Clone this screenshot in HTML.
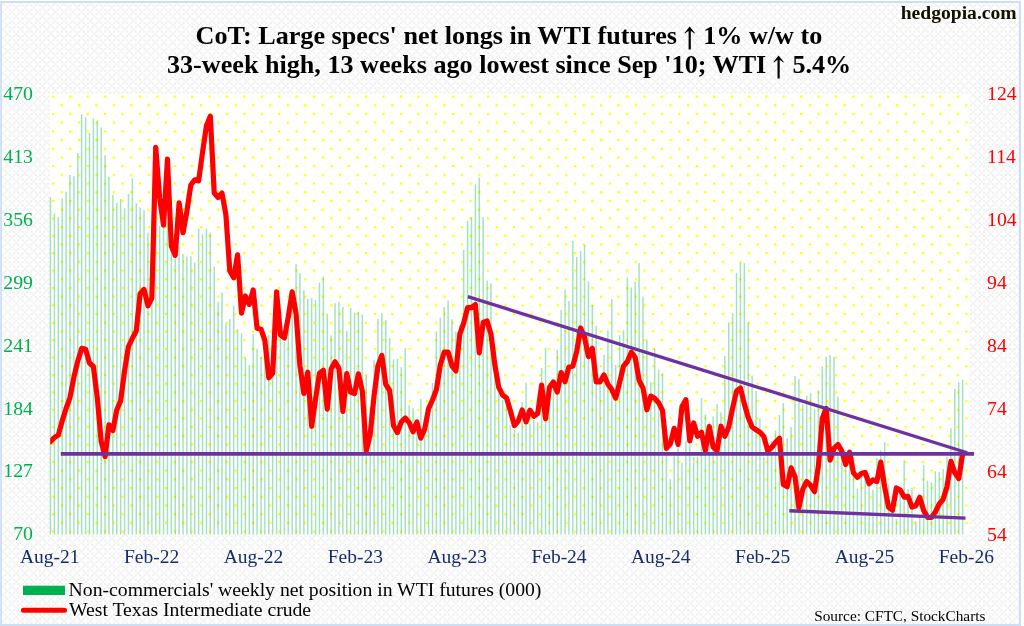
<!DOCTYPE html>
<html><head><meta charset="utf-8"><title>CoT WTI</title>
<style>
html,body{margin:0;padding:0;background:#fff;}
body{width:1024px;height:626px;position:relative;overflow:hidden;font-family:"Liberation Serif",serif;}
.h{color:transparent}
.t{position:absolute;white-space:nowrap;font-family:"Liberation Serif",serif;}
#tx{position:absolute;left:0;top:0;width:1024px;height:626px;will-change:transform;transform:translateZ(0);}
</style></head><body>
<svg id="chart" width="1024" height="626" viewBox="0 0 1024 626" style="position:absolute;left:0;top:0">
<defs>
<pattern id="bgp" x="-0.15" y="0.05" width="8.7" height="8.7" patternUnits="userSpaceOnUse">
<g fill="#efefef">
<rect x="0" y="0" width="2.175" height="2.175"/><rect x="4.35" y="0" width="2.175" height="2.175"/>
<rect x="2.175" y="2.175" width="2.175" height="2.175"/>
<rect x="0" y="4.35" width="2.175" height="2.175"/><rect x="4.35" y="4.35" width="2.175" height="2.175"/>
<rect x="6.525" y="6.525" width="2.175" height="2.175"/>
</g>
</pattern>
<pattern id="dots" x="51.9" y="95.5" width="17.4" height="17.4" patternUnits="userSpaceOnUse">
<rect x="0" y="0" width="2.2" height="2.2" fill="#ffff00"/><rect x="8.7" y="8.7" width="2.2" height="2.2" fill="#ffff00"/>
</pattern>
<filter id="soft" x="-5%" y="-5%" width="110%" height="110%"><feGaussianBlur stdDeviation="0.45"/></filter>
<filter id="soft2" x="-5%" y="-5%" width="110%" height="110%"><feGaussianBlur stdDeviation="0.6"/></filter>
<clipPath id="pc"><rect x="50.2" y="90" width="930" height="450"/></clipPath>
</defs>
<rect x="0" y="0" width="1024" height="626" fill="#ffffff"/>
<rect x="2" y="3" width="1017" height="621" fill="url(#bgp)" filter="url(#soft2)"/>
<g filter="url(#soft)" stroke="#cedef3" fill="none"><line x1="0" y1="2" x2="1021" y2="2" stroke-width="1.8"/><line x1="1.1" y1="1" x2="1.1" y2="626" stroke-width="1.9"/><line x1="1020" y1="1" x2="1020" y2="626" stroke-width="2"/><line x1="0" y1="625.2" x2="1021" y2="625.2" stroke-width="2.2"/></g>
<rect x="49.8" y="94.0" width="920.2" height="440.5" fill="#ffffff"/>
<rect x="49.8" y="94.0" width="920.2" height="440.5" fill="url(#dots)" filter="url(#soft)"/>
<path d="M50.50 534.5V196.9M54.40 534.5V213.6M58.30 534.5V217.1M62.19 534.5V198.3M66.09 534.5V191.7M69.99 534.5V175.0M73.89 534.5V176.2M77.79 534.5V153.0M81.68 534.5V114.0M85.58 534.5V117.2M89.48 534.5V133.1M93.38 534.5V118.3M97.28 534.5V120.3M101.17 534.5V127.6M105.07 534.5V155.3M108.97 534.5V176.9M112.87 534.5V194.9M116.77 534.5V202.7M120.66 534.5V199.1M124.56 534.5V208.2M128.46 534.5V194.1M132.36 534.5V178.2M136.26 534.5V203.2M140.15 534.5V207.4M144.05 534.5V210.0M147.95 534.5V232.4M151.85 534.5V230.0M155.75 534.5V228.0M159.64 534.5V226.2M163.54 534.5V228.0M167.44 534.5V221.5M171.34 534.5V240.0M175.24 534.5V244.0M179.13 534.5V246.5M183.03 534.5V253.9M186.93 534.5V256.7M190.83 534.5V256.2M194.73 534.5V262.5M198.62 534.5V228.8M202.52 534.5V234.3M206.42 534.5V228.8M210.32 534.5V232.4M214.22 534.5V266.5M218.11 534.5V301.8M222.01 534.5V292.4M225.91 534.5V323.5M229.81 534.5V319.3M233.71 534.5V305.7M237.60 534.5V329.2M241.50 534.5V333.4M245.40 534.5V357.6M249.30 534.5V365.0M253.20 534.5V334.2M257.09 534.5V348.7M260.99 534.5V356.9M264.89 534.5V345.0M268.79 534.5V334.9M272.69 534.5V350.0M276.58 534.5V345.0M280.48 534.5V307.6M284.38 534.5V342.0M288.28 534.5V325.0M292.18 534.5V300.0M296.07 534.5V264.0M299.97 534.5V273.3M303.87 534.5V290.3M307.77 534.5V299.0M311.67 534.5V298.2M315.56 534.5V300.0M319.46 534.5V282.8M323.36 534.5V276.6M327.26 534.5V313.8M331.16 534.5V335.4M335.05 534.5V303.2M338.95 534.5V302.1M342.85 534.5V307.1M346.75 534.5V331.0M350.65 534.5V308.0M354.54 534.5V313.0M358.44 534.5V311.7M362.34 534.5V314.6M366.24 534.5V375.3M370.14 534.5V407.0M374.03 534.5V360.2M377.93 534.5V319.0M381.83 534.5V313.3M385.73 534.5V320.1M389.63 534.5V338.1M393.52 534.5V359.2M397.42 534.5V358.7M401.32 534.5V367.3M405.22 534.5V348.2M409.12 534.5V405.3M413.01 534.5V408.3M416.91 534.5V425.0M420.81 534.5V398.9M424.71 534.5V432.0M428.61 534.5V410.0M432.50 534.5V383.0M436.40 534.5V331.5M440.30 534.5V317.4M444.20 534.5V307.1M448.10 534.5V300.5M451.99 534.5V319.3M455.89 534.5V331.3M459.79 534.5V325.1M463.69 534.5V249.9M467.59 534.5V221.0M471.48 534.5V217.1M475.38 534.5V184.2M479.28 534.5V177.5M483.18 534.5V216.9M487.08 534.5V280.5M490.97 534.5V283.3M494.87 534.5V347.0M498.77 534.5V393.6M502.67 534.5V399.4M506.57 534.5V394.0M510.46 534.5V425.0M514.36 534.5V430.0M518.26 534.5V432.9M522.16 534.5V402.0M526.06 534.5V382.4M529.95 534.5V423.5M533.85 534.5V420.0M537.75 534.5V422.2M541.65 534.5V368.0M545.55 534.5V347.8M549.44 534.5V385.0M553.34 534.5V380.0M557.24 534.5V350.1M561.14 534.5V310.1M565.04 534.5V289.5M568.93 534.5V300.9M572.83 534.5V241.0M576.73 534.5V256.9M580.63 534.5V250.8M584.53 534.5V244.9M588.42 534.5V281.6M592.32 534.5V305.1M596.22 534.5V326.0M600.12 534.5V385.0M604.02 534.5V354.7M607.91 534.5V330.6M611.81 534.5V298.9M615.71 534.5V365.1M619.61 534.5V335.2M623.51 534.5V330.2M627.40 534.5V277.4M631.30 534.5V287.4M635.20 534.5V282.0M639.10 534.5V262.9M643.00 534.5V296.5M646.89 534.5V339.6M650.79 534.5V382.3M654.69 534.5V348.2M658.59 534.5V369.5M662.49 534.5V373.4M666.38 534.5V440.0M670.28 534.5V479.3M674.18 534.5V455.8M678.08 534.5V448.2M681.98 534.5V462.8M685.87 534.5V440.7M689.77 534.5V444.4M693.67 534.5V457.0M697.57 534.5V457.0M701.47 534.5V398.1M705.36 534.5V414.5M709.26 534.5V422.3M713.16 534.5V416.4M717.06 534.5V403.9M720.96 534.5V412.2M724.85 534.5V355.8M728.75 534.5V322.5M732.65 534.5V313.2M736.55 534.5V273.2M740.45 534.5V262.7M744.34 534.5V263.2M748.24 534.5V322.5M752.14 534.5V375.4M756.04 534.5V390.7M759.94 534.5V418.7M763.83 534.5V456.7M767.73 534.5V450.0M771.63 534.5V441.5M775.53 534.5V430.8M779.43 534.5V415.1M783.32 534.5V403.0M787.22 534.5V438.3M791.12 534.5V427.0M795.02 534.5V375.9M798.92 534.5V379.3M802.81 534.5V404.3M806.71 534.5V395.7M810.61 534.5V393.3M814.51 534.5V409.3M818.41 534.5V390.4M822.30 534.5V366.6M826.20 534.5V356.7M830.10 534.5V354.9M834.00 534.5V357.0M837.90 534.5V396.6M841.79 534.5V455.0M845.69 534.5V455.0M849.59 534.5V460.0M853.49 534.5V457.6M857.39 534.5V488.7M861.28 534.5V476.0M865.18 534.5V478.0M869.08 534.5V473.2M872.98 534.5V489.9M876.88 534.5V458.0M880.77 534.5V450.2M884.67 534.5V442.3M888.57 534.5V484.5M892.47 534.5V500.0M896.37 534.5V519.0M900.26 534.5V495.0M904.16 534.5V460.3M908.06 534.5V489.3M911.96 534.5V487.7M915.86 534.5V521.4M919.75 534.5V515.0M923.65 534.5V465.0M927.55 534.5V480.7M931.45 534.5V481.9M935.35 534.5V471.3M939.24 534.5V472.1M943.14 534.5V469.0M947.04 534.5V456.4M950.94 534.5V428.3M954.84 534.5V389.1M958.73 534.5V382.2M962.63 534.5V379.7" stroke="#00b050" stroke-opacity="0.36" stroke-width="1.5" fill="none"/>
<polyline points="50.50,441.6 54.40,437.5 58.30,435.1 62.19,421.0 66.09,408.5 69.99,397.6 73.89,377.2 77.79,361.0 81.68,348.4 85.58,349.2 89.48,363.0 93.38,366.5 97.28,397.6 101.17,441.4 105.07,456.6 108.97,424.8 112.87,430.5 116.77,410.1 120.66,400.7 124.56,371.0 128.46,346.5 132.36,338.3 136.26,331.0 140.15,293.5 144.05,289.4 147.95,305.8 151.85,298.0 155.75,147.4 159.64,198.0 163.54,225.2 167.44,159.1 171.34,246.0 175.24,255.4 179.13,202.8 183.03,232.7 186.93,211.0 190.83,185.0 194.73,179.8 198.62,180.9 202.52,152.5 206.42,125.8 210.32,116.1 214.22,193.0 218.11,197.5 222.01,193.1 225.91,214.7 229.81,271.0 233.71,277.7 237.60,254.8 241.50,313.2 245.40,296.0 249.30,304.3 253.20,289.9 257.09,328.2 260.99,329.2 264.89,340.4 268.79,377.8 272.69,373.3 276.58,291.8 280.48,335.0 284.38,337.9 288.28,317.0 292.18,291.8 296.07,313.8 299.97,366.0 303.87,393.5 307.77,372.2 311.67,426.4 315.56,399.0 319.46,373.3 323.36,370.3 327.26,409.1 331.16,369.0 335.05,361.7 338.95,368.8 342.85,411.5 346.75,373.5 350.65,392.1 354.54,393.6 358.44,373.8 362.34,391.0 366.24,451.0 370.14,435.0 374.03,396.0 377.93,366.0 381.83,355.4 385.73,384.3 389.63,390.5 393.52,425.7 397.42,432.6 401.32,421.8 405.22,418.0 409.12,422.6 413.01,431.8 416.91,422.0 420.81,438.1 424.71,428.9 428.61,408.5 432.50,400.0 436.40,389.7 440.30,365.0 444.20,352.2 448.10,352.0 451.99,366.0 455.89,371.0 459.79,334.2 463.69,323.2 467.59,307.6 471.48,307.6 475.38,304.6 479.28,352.8 483.18,322.4 487.08,321.0 490.97,334.2 494.87,365.0 498.77,387.4 502.67,395.2 506.57,398.0 510.46,411.0 514.36,425.7 518.26,421.0 522.16,410.0 526.06,421.8 529.95,410.2 533.85,416.2 537.75,413.3 541.65,385.1 545.55,418.8 549.44,387.5 553.34,382.0 557.24,392.0 561.14,372.6 565.04,381.7 568.93,367.0 572.83,366.2 576.73,351.3 580.63,328.0 584.53,337.2 588.42,356.6 592.32,348.3 596.22,382.0 600.12,381.8 604.02,374.9 607.91,384.2 611.81,389.6 615.71,398.1 619.61,382.6 623.51,366.2 627.40,361.5 631.30,352.2 635.20,357.6 639.10,380.3 643.00,388.1 646.89,409.8 650.79,396.1 654.69,398.2 658.59,402.7 662.49,410.4 666.38,448.4 670.28,443.8 674.18,428.3 678.08,444.4 681.98,406.5 685.87,399.8 689.77,441.0 693.67,423.0 697.57,436.3 701.47,432.2 705.36,450.7 709.26,426.6 713.16,447.0 717.06,450.7 720.96,426.2 724.85,436.3 728.75,427.0 732.65,408.0 736.55,391.0 740.45,388.0 744.34,404.0 748.24,417.4 752.14,427.0 756.04,429.8 759.94,432.3 763.83,436.5 767.73,450.8 771.63,447.6 775.53,442.3 779.43,438.2 783.32,484.5 787.22,486.7 791.12,467.9 795.02,476.7 798.92,507.8 802.81,489.2 806.71,481.5 810.61,485.4 814.51,491.7 818.41,466.0 822.30,418.5 826.20,408.5 830.10,460.2 834.00,448.6 837.90,444.4 841.79,451.0 845.69,464.5 849.59,452.2 853.49,472.9 857.39,477.4 861.28,473.6 865.18,472.5 869.08,483.7 872.98,479.9 876.88,481.5 880.77,462.1 884.67,487.0 888.57,507.3 892.47,510.3 896.37,488.0 900.26,490.1 904.16,497.1 908.06,496.3 911.96,507.1 915.86,505.7 919.75,497.3 923.65,510.4 927.55,517.3 931.45,517.5 935.35,512.0 939.24,504.0 943.14,499.3 947.04,486.5 950.94,461.3 954.84,472.9 958.73,478.6 962.63,454.0" fill="none" stroke="#ff0000" stroke-width="5.2" stroke-linejoin="round" stroke-linecap="round" clip-path="url(#pc)"/>
<g stroke="#7030a0" stroke-width="3.8" fill="none">
<line x1="60.8" y1="453.9" x2="974" y2="453.9"/>
<line x1="467.8" y1="296.6" x2="967.2" y2="452.7" stroke-width="3.3"/>
<line x1="789.3" y1="510.7" x2="965.5" y2="518.1" stroke-width="3.4"/>
</g>
<rect x="23" y="585.7" width="42" height="9.3" fill="#00b050"/>
<line x1="23.4" y1="610.3" x2="64.5" y2="610.3" stroke="#ff0000" stroke-width="5" stroke-linecap="round"/>
<path fill="#000" d="M689.7,26.400000000000002 L694.9000000000001,33.0 L694.4000000000001,33.4 Q691.9000000000001,31.3 690.8000000000001,31.0 L690.8000000000001,49.400000000000006 L688.6,49.400000000000006 L688.6,31.0 Q687.5,31.3 685.0,33.4 L684.5,33.0 Z"/>
<path fill="#000" d="M778.6,55.5 L783.8000000000001,62.1 L783.3000000000001,62.5 Q780.8000000000001,60.400000000000006 779.7,60.1 L779.7,78.5 L777.5,78.5 L777.5,60.1 Q776.4,60.400000000000006 773.9,62.5 L773.4,62.1 Z"/>
</svg>
<div id="tx">
<div class="t" style="left:8.899999999999977px;width:1000px;text-align:center;top:23.30px;font-size:26.15px;line-height:26.15px;color:#000;font-weight:bold;">CoT: Large specs' net longs in WTI futures <span class=h>&#8593;</span> 1% w/w to</div>
<div class="t" style="left:9.100000000000023px;width:1000px;text-align:center;top:52.40px;font-size:26.15px;line-height:26.15px;color:#000;font-weight:bold;">33-week high, 13 weeks ago lowest since Sep '10; WTI <span class=h>&#8593;</span> 5.4%</div>
<div class="t" style="right:7.399999999999977px;top:3.18px;font-size:19.6px;line-height:19.6px;color:#141000;font-weight:bold;">hedgopia.com</div>
<div class="t" style="right:991.0px;top:83.92px;font-size:19.8px;line-height:19.8px;color:#00b050;">470</div>
<div class="t" style="right:991.0px;top:146.85px;font-size:19.8px;line-height:19.8px;color:#00b050;">413</div>
<div class="t" style="right:991.0px;top:209.77px;font-size:19.8px;line-height:19.8px;color:#00b050;">356</div>
<div class="t" style="right:991.0px;top:272.70px;font-size:19.8px;line-height:19.8px;color:#00b050;">299</div>
<div class="t" style="right:991.0px;top:335.63px;font-size:19.8px;line-height:19.8px;color:#00b050;">241</div>
<div class="t" style="right:991.0px;top:398.56px;font-size:19.8px;line-height:19.8px;color:#00b050;">184</div>
<div class="t" style="right:991.0px;top:461.49px;font-size:19.8px;line-height:19.8px;color:#00b050;">127</div>
<div class="t" style="right:991.0px;top:524.42px;font-size:19.8px;line-height:19.8px;color:#00b050;">70</div>
<div class="t" style="left:987.05px;top:84.00px;font-size:19.7px;line-height:19.7px;color:#ff0000;">124</div>
<div class="t" style="left:987.05px;top:146.93px;font-size:19.7px;line-height:19.7px;color:#ff0000;">114</div>
<div class="t" style="left:987.05px;top:209.86px;font-size:19.7px;line-height:19.7px;color:#ff0000;">104</div>
<div class="t" style="left:987.05px;top:272.79px;font-size:19.7px;line-height:19.7px;color:#ff0000;">94</div>
<div class="t" style="left:987.05px;top:335.72px;font-size:19.7px;line-height:19.7px;color:#ff0000;">84</div>
<div class="t" style="left:987.05px;top:398.64px;font-size:19.7px;line-height:19.7px;color:#ff0000;">74</div>
<div class="t" style="left:987.05px;top:461.57px;font-size:19.7px;line-height:19.7px;color:#ff0000;">64</div>
<div class="t" style="left:987.05px;top:524.50px;font-size:19.7px;line-height:19.7px;color:#ff0000;">54</div>
<div class="t" style="left:-450.2px;width:1000px;text-align:center;top:547.27px;font-size:19.5px;line-height:19.5px;color:#162c6b;">Aug-21</div>
<div class="t" style="left:-348.36px;width:1000px;text-align:center;top:547.27px;font-size:19.5px;line-height:19.5px;color:#162c6b;">Feb-22</div>
<div class="t" style="left:-246.51999999999998px;width:1000px;text-align:center;top:547.27px;font-size:19.5px;line-height:19.5px;color:#162c6b;">Aug-22</div>
<div class="t" style="left:-144.68000000000006px;width:1000px;text-align:center;top:547.27px;font-size:19.5px;line-height:19.5px;color:#162c6b;">Feb-23</div>
<div class="t" style="left:-42.84000000000003px;width:1000px;text-align:center;top:547.27px;font-size:19.5px;line-height:19.5px;color:#162c6b;">Aug-23</div>
<div class="t" style="left:59.0px;width:1000px;text-align:center;top:547.27px;font-size:19.5px;line-height:19.5px;color:#162c6b;">Feb-24</div>
<div class="t" style="left:160.83999999999992px;width:1000px;text-align:center;top:547.27px;font-size:19.5px;line-height:19.5px;color:#162c6b;">Aug-24</div>
<div class="t" style="left:262.67999999999995px;width:1000px;text-align:center;top:547.27px;font-size:19.5px;line-height:19.5px;color:#162c6b;">Feb-25</div>
<div class="t" style="left:364.52px;width:1000px;text-align:center;top:547.27px;font-size:19.5px;line-height:19.5px;color:#162c6b;">Aug-25</div>
<div class="t" style="left:466.36px;width:1000px;text-align:center;top:547.27px;font-size:19.5px;line-height:19.5px;color:#162c6b;">Feb-26</div>
<div class="t" style="left:68.6px;top:580.10px;font-size:19.7px;line-height:19.7px;color:#000;">Non-commercials' weekly net position in WTI futures (000)</div>
<div class="t" style="left:69.0px;top:600.20px;font-size:19.7px;line-height:19.7px;color:#000;">West Texas Intermediate crude</div>
<div class="t" style="left:814.2px;top:607.69px;font-size:15.3px;line-height:15.3px;color:#000;">Source: CFTC, StockCharts</div>
</div>
</body></html>
